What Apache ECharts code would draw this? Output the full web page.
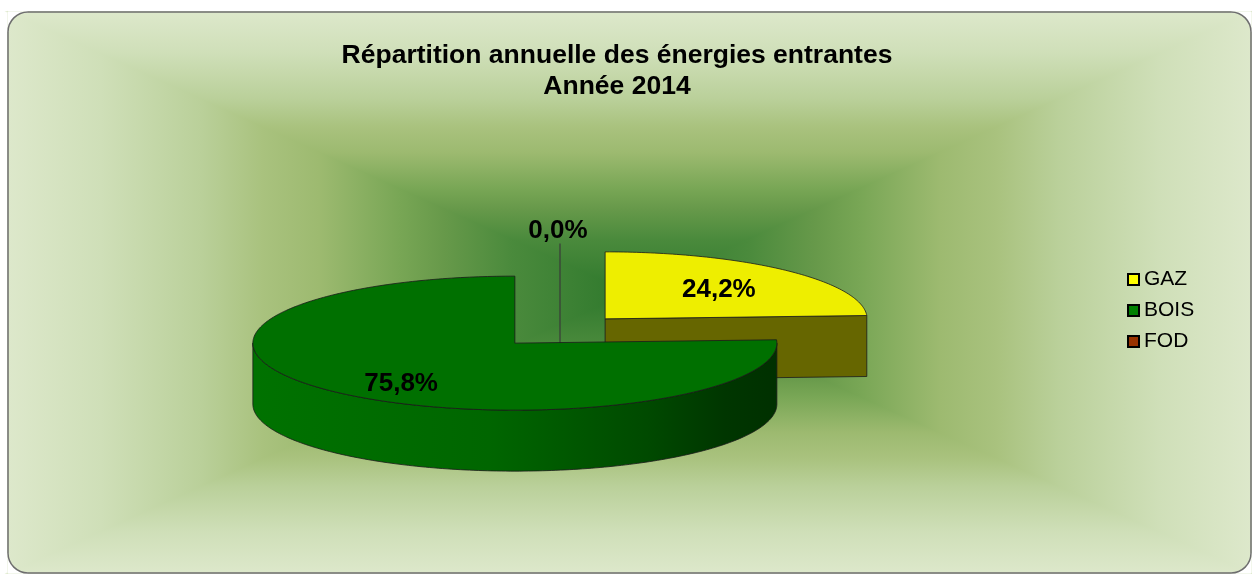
<!DOCTYPE html>
<html>
<head>
<meta charset="utf-8">
<script src="https://cdn.jsdelivr.net/npm/echarts@6/dist/echarts.min.js"></script>
<style>
    html, body { margin: 0; padding: 0; background: #fff; }
    #energies { width: 1252px; height: 574px; }
</style>
</head>
<body>
<div id="energies"></div>
<script>
// données
var categories = ['GAZ', 'BOIS', 'FOD'];
var shares = [24.2, 75.8, 0.0];
var labels = ['24,2%', '75,8%', '0,0%'];

// couleurs
var legendColors = ['#ffff00', '#008000', '#993300'];
var topColors = ['#eeee00', '#007000', '#993300'];
var cutColors = ['#666600', '#004000', '#4d1a00'];

// géométrie du camembert 3D (éclaté)
var pie = { cx: 560, cy: 331, rx: 262, ry: 67, depth: 61, explode: 0.25 };
var frame = { x: 8, y: 12, w: 1243, h: 561, r: 20 };

var chart = echarts.init(document.getElementById('energies'));

function wallFill() {
    return new echarts.graphic.LinearGradient(0, 0, 1, 0, [
        { offset: 0, color: '#007200' },
        { offset: 0.45, color: '#006600' },
        { offset: 0.75, color: '#004a00' },
        { offset: 0.9, color: '#003600' },
        { offset: 1, color: '#003000' }
    ]);
}

function renderSlice(idx) {
    return function (params, api) {
        var total = 0, before = 0;
        for (var j = 0; j < shares.length; j++) {
            total += shares[j];
            if (j < idx) before += shares[j];
        }
        var a0 = before / total * Math.PI * 2;
        var a1 = (before + shares[idx]) / total * Math.PI * 2;
        var mid = (a0 + a1) / 2;
        var ox = pie.cx + pie.rx * pie.explode * Math.sin(mid);
        var oy = pie.cy - pie.ry * pie.explode * Math.cos(mid);
        function pt(a, r, dy) {
            return [ox + pie.rx * r * Math.sin(a), oy - pie.ry * r * Math.cos(a) + (dy || 0)];
        }
        function arc(from, to, r, dy) {
            var out = [];
            var n = Math.max(2, Math.ceil(Math.abs(to - from) / (Math.PI / 180)));
            for (var k = 0; k <= n; k++) {
                out.push(pt(from + (to - from) * k / n, r, dy));
            }
            return out;
        }
        var z = Math.round(50 - 40 * Math.cos(mid));
        var children = [];
        var line = { stroke: '#1a1a1a', lineWidth: 0.8 };
        var font = { fill: '#000', fontSize: 26, fontWeight: 'bold', fontFamily: 'Liberation Sans, Arial, sans-serif' };

        if (a1 - a0 > 1e-9) {
            // paroi extérieure (moitié avant)
            var w0 = Math.max(a0, Math.PI / 2), w1 = Math.min(a1, Math.PI * 1.5);
            if (w1 > w0) {
                var wall = arc(w0, w1, 1, 0).concat(arc(w1, w0, 1, pie.depth));
                children.push({
                    type: 'polygon', z2: z,
                    shape: { points: wall },
                    style: Object.assign({ fill: wallFill() }, line)
                });
            }
            // faces de coupe visibles
            if (Math.sin(a1) > 1e-6) {
                children.push({
                    type: 'polygon', z2: z,
                    shape: { points: [pt(a1, 0), pt(a1, 1), pt(a1, 1, pie.depth), pt(a1, 0, pie.depth)] },
                    style: Object.assign({ fill: cutColors[idx] }, line)
                });
            }
            if (Math.sin(a0) < -1e-6) {
                children.push({
                    type: 'polygon', z2: z,
                    shape: { points: [pt(a0, 0), pt(a0, 1), pt(a0, 1, pie.depth), pt(a0, 0, pie.depth)] },
                    style: Object.assign({ fill: cutColors[idx] }, line)
                });
            }
            // dessus
            children.push({
                type: 'polygon', z2: z + 1,
                shape: { points: [pt(0, 0)].concat(arc(a0, a1, 1, 0)) },
                style: Object.assign({ fill: topColors[idx] }, line)
            });
            var lp = pt(mid, 0.63, pie.depth * 0.095 * (1 - Math.cos(mid)));
            children.push({
                type: 'text', z2: z + 2,
                style: Object.assign({
                    text: labels[idx], x: lp[0], y: lp[1],
                    align: 'center', verticalAlign: 'middle'
                }, font)
            });
        } else {
            // part nulle : étiquette extérieure + trait de rappel
            var tp = [pie.cx + pie.rx * 1.5 * Math.sin(mid), pie.cy - pie.ry * 1.5 * Math.cos(mid)];
            children.push({
                type: 'line', z2: z,
                shape: { x1: tp[0], y1: tp[1] + 13, x2: tp[0], y2: pie.cy + 20 },
                style: { stroke: '#3a3a3a', lineWidth: 1.2 }
            });
            children.push({
                type: 'text', z2: z + 2,
                style: Object.assign({
                    text: labels[idx], x: tp[0] - 2, y: tp[1],
                    align: 'center', verticalAlign: 'middle'
                }, font)
            });
        }
        return { type: 'group', children: children };
    };
}

// fond dégradé "depuis le centre" (4 triangles) + coins arrondis
function background() {
    var x0 = frame.x, y0 = frame.y, x1 = frame.x + frame.w, y1 = frame.y + frame.h;
    var c = [x0 + frame.w / 2, y0 + frame.h / 2];
    var stops = [
        { offset: 0, color: '#dde8cb' },
        { offset: 0.15, color: '#cfdfb8' },
        { offset: 0.31, color: '#bad09a' },
        { offset: 0.41, color: '#a9c27e' },
        { offset: 0.5, color: '#9dba70' },
        { offset: 0.63, color: '#78a655' },
        { offset: 0.7, color: '#67994a' },
        { offset: 0.81, color: '#4a8a3c' },
        { offset: 1, color: '#2e782c' }
    ];
    function tri(pts, a, b, cc, d) {
        var g = new echarts.graphic.LinearGradient(a, b, cc, d, stops);
        return { type: 'polygon', shape: { points: pts }, style: { fill: g, stroke: g, lineWidth: 1.5 } };
    }
    var els = [
        tri([[x0, y0], [x1, y0], c], 0, 0, 0, 1),
        tri([[x0, y1], [x1, y1], c], 0, 1, 0, 0),
        tri([[x0, y0], [x0, y1], c], 0, 0, 1, 0),
        tri([[x1, y0], [x1, y1], c], 1, 0, 0, 0)
    ];
    var r = frame.r;
    var corners = [
        [x0, y0, x0 + r, y0 + r, Math.PI, Math.PI * 1.5],
        [x1, y0, x1 - r, y0 + r, Math.PI * 1.5, Math.PI * 2],
        [x1, y1, x1 - r, y1 - r, 0, Math.PI * 0.5],
        [x0, y1, x0 + r, y1 - r, Math.PI * 0.5, Math.PI]
    ];
    corners.forEach(function (k) {
        var pts = [[k[0], k[1]]];
        for (var s = 0; s <= 20; s++) {
            var a = k[4] + (k[5] - k[4]) * s / 20;
            pts.push([k[2] + r * Math.cos(a), k[3] + r * Math.sin(a)]);
        }
        els.push({ type: 'polygon', shape: { points: pts }, style: { fill: '#ffffff', stroke: '#ffffff', lineWidth: 1 } });
    });
    els.push({
        type: 'rect',
        shape: { x: x0, y: y0, width: frame.w, height: frame.h, r: r },
        style: { fill: null, stroke: '#6e6e6e', lineWidth: 1.5 }
    });
    return els;
}

var series = [];
for (var i = 0; i < categories.length; i++) {
    series.push({
        type: 'custom',
        name: categories[i],
        coordinateSystem: 'none',
        itemStyle: { color: legendColors[i] },
        renderItem: renderSlice(i),
        data: [shares[i]]
    });
}

option = {
    animation: false,
    backgroundColor: '#ffffff',
    graphic: background(),
    title: {
        text: 'Répartition annuelle des énergies entrantes\nAnnée 2014',
        left: 617,
        top: 40,
        textAlign: 'center',
        padding: 0,
        textStyle: {
            fontSize: 26.5,
            fontWeight: 'bold',
            lineHeight: 31,
            color: '#000',
            fontFamily: 'Liberation Sans, Arial, sans-serif'
        }
    },
    legend: {
        orient: 'vertical',
        left: 1122,
        top: 264,
        itemWidth: 11,
        itemHeight: 11,
        itemGap: 10,
        icon: 'rect',
        itemStyle: { borderColor: '#000', borderWidth: 2 },
        textStyle: {
            fontSize: 21,
            color: '#000',
            fontFamily: 'Liberation Sans, Arial, sans-serif'
        },
        data: categories
    },
    series: series
};
chart.setOption(option);
</script>
</body>
</html>
